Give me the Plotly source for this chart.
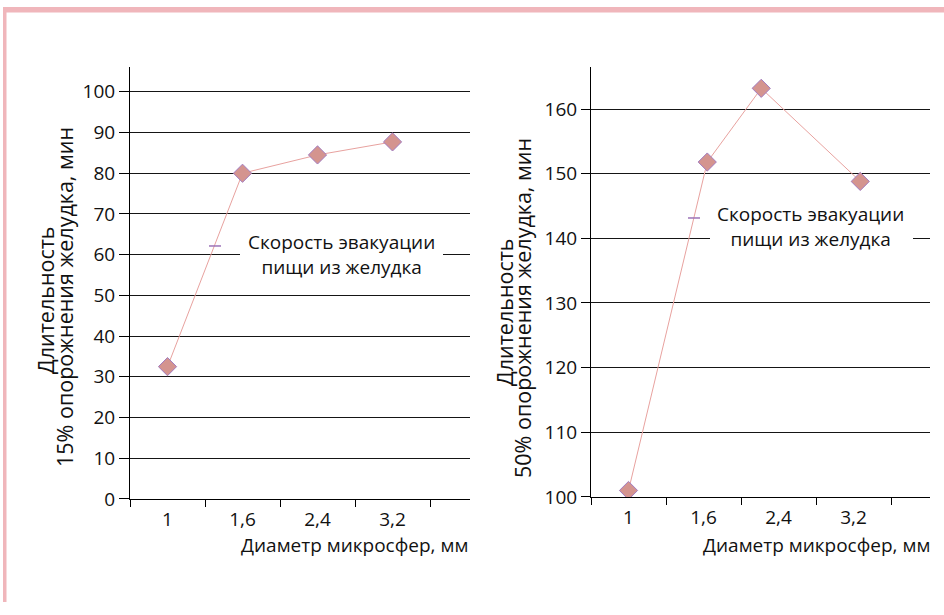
import plotly.graph_objects as go

# ---- data ----
x_labels = ["1", "1,6", "2,4", "3,2"]
left_x = [0, 1, 2, 3]
left_y = [32.5, 80, 84.5, 87.7]
right_x = [0, 1.05, 1.77, 3.09]
right_y = [101, 151.8, 163.2, 148.8]
legend_name = ["Скорость эвакуации", "пищи из желудка"]
y_title_left = ["Длительность", "15% опорожнения желудка, мин"]
y_title_right = ["Длительность", "50% опорожнения желудка, мин"]
x_title = "Диаметр микросфер, мм"

W, H = 944, 615
S = 1.0215  # vertical compensation
FONT = "Open Sans"
FS = 19
FS_Y = 21.5
TXT = "#111111"
LINE_C = "#e8a29f"
MARK_FILL = "#d4948f"
MARK_EDGE = "#a27cc0"
DASH_C = "#9d74b8"
BORDER_C = "#f0b6bb"


def px(x):
    return x / W


def py(y):
    return 1 - y * S / H


fig = go.Figure()
fig.add_trace(go.Scatter(x=left_x, y=left_y, mode="lines+markers", xaxis="x", yaxis="y",
                         line=dict(color=LINE_C, width=1),
                         marker=dict(symbol="diamond", size=14, color=MARK_FILL,
                                     line=dict(color=MARK_EDGE, width=1)),
                         showlegend=False, name=" ".join(legend_name)))
fig.add_trace(go.Scatter(x=right_x, y=right_y, mode="lines+markers", xaxis="x2", yaxis="y2",
                         line=dict(color=LINE_C, width=1),
                         marker=dict(symbol="diamond", size=14, color=MARK_FILL,
                                     line=dict(color=MARK_EDGE, width=1)),
                         showlegend=False, name=" ".join(legend_name)))

common_x = dict(tickmode="array", tickvals=[0, 1, 2, 3], ticktext=x_labels, ticks="",
                showgrid=False, zeroline=False, showline=True, linecolor="black", linewidth=1,
                tickfont=dict(family=FONT, size=FS, color=TXT), ticklabelstandoff=3,
                minor=dict(tickmode="array", tickvals=[-0.5, 0.5, 1.5, 2.5, 3.5],
                           ticks="outside", ticklen=7, tickcolor="black", tickwidth=1, showgrid=False))
common_y = dict(ticks="outside", tickcolor="black", tickwidth=1, dtick=10,
                showgrid=True, gridcolor="#151515", gridwidth=1, zeroline=False,
                showline=True, linecolor="black", linewidth=1,
                tickfont=dict(family=FONT, size=FS, color=TXT))

fig.update_layout(
    width=W, height=H, autosize=False,
    margin=dict(l=0, r=0, t=0, b=0),
    paper_bgcolor="white", plot_bgcolor="white",
    showlegend=False,
    xaxis=dict(domain=[px(130), px(470)], range=[-0.5, 4.033], anchor="y", **common_x),
    yaxis=dict(domain=[py(499), py(67)], range=[0, 106.1], tick0=0, ticklen=10, anchor="x", **common_y),
    xaxis2=dict(domain=[px(591), px(930)], range=[-0.5, 4.02], anchor="y2", **common_x),
    yaxis2=dict(domain=[py(497), py(67)], range=[100, 166.5], tick0=100, ticklen=9, anchor="x2", **common_y),
)

shapes = []
# pink frame
shapes.append(dict(type="rect", xref="paper", yref="paper", x0=px(3), x1=px(W), y0=py(12.5), y1=py(7),
                   fillcolor=BORDER_C, line=dict(width=0), layer="above"))
shapes.append(dict(type="rect", xref="paper", yref="paper", x0=px(3), x1=px(6.5), y0=0, y1=py(7),
                   fillcolor=BORDER_C, line=dict(width=0), layer="above"))
# legend boxes (white) and dashes
shapes.append(dict(type="rect", xref="paper", yref="paper", x0=px(240), x1=px(443), y0=py(277), y1=py(232),
                   fillcolor="white", line=dict(width=0), layer="above"))
shapes.append(dict(type="line", xref="paper", yref="paper", x0=px(209), x1=px(221), y0=py(246), y1=py(246),
                   line=dict(color=DASH_C, width=1.5), layer="above"))
shapes.append(dict(type="rect", xref="paper", yref="paper", x0=px(710), x1=px(913), y0=py(249), y1=py(205),
                   fillcolor="white", line=dict(width=0), layer="above"))
shapes.append(dict(type="line", xref="paper", yref="paper", x0=px(688), x1=px(700), y0=py(218), y1=py(218),
                   line=dict(color=DASH_C, width=1.5), layer="above"))
fig.update_layout(shapes=shapes)

ann = []


def text(t, x, y, xanchor="center", angle=0, size=FS):
    ann.append(dict(text=t, xref="paper", yref="paper", x=px(x), y=py(y), xanchor=xanchor,
                    yanchor="middle", showarrow=False, textangle=angle, align="center",
                    font=dict(family=FONT, size=size, color=TXT)))


# legends (two lines in one text block)
text("<br>".join(legend_name), 341, 254.5)
text("<br>".join(legend_name), 810, 227)
# x titles
text(x_title, 470, 545, xanchor="right")
text(x_title, 932, 545, xanchor="right")
# y titles
text(y_title_left[0], 46, 300, angle=-90, size=FS_Y)
text(y_title_left[1], 65, 297, angle=-90, size=FS_Y)
text(y_title_right[0], 505, 312, angle=-90, size=FS_Y)
text(y_title_right[1], 523, 308, angle=-90, size=FS_Y)
fig.update_layout(annotations=ann)

fig.write_html("out.html", config={"displayModeBar": False},
               post_script="document.body.style.margin='0';")
